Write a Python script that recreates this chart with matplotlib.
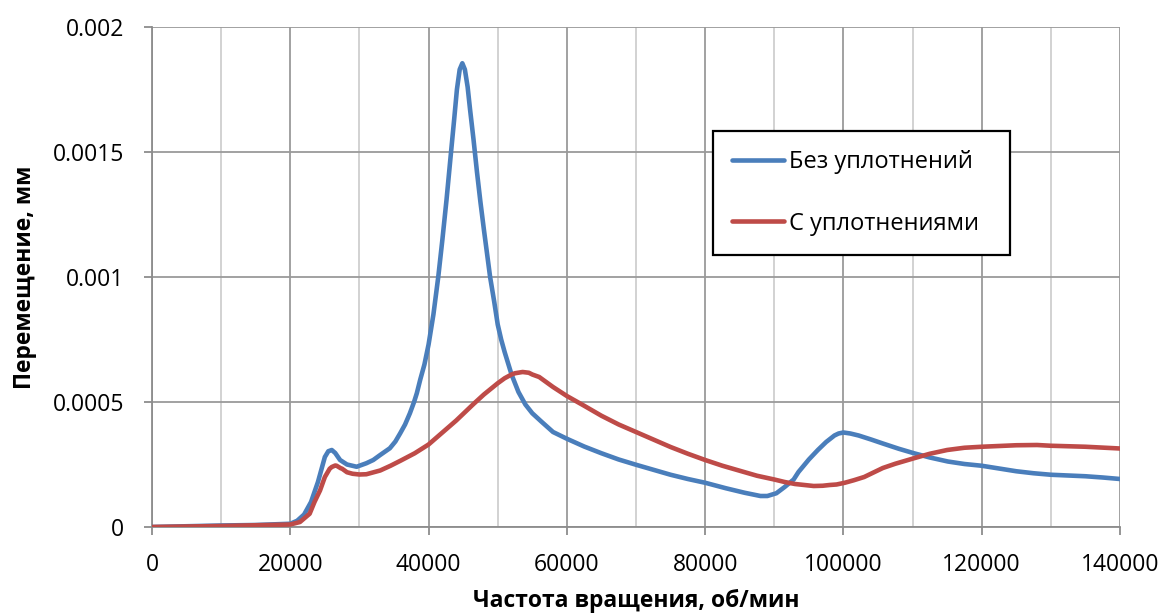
import matplotlib
matplotlib.use("Agg")
import matplotlib.pyplot as plt
from matplotlib.ticker import MultipleLocator, FixedLocator

# Rotation speed, rpm / displacement, mm
speed_plain = [0, 5000, 10000, 15000, 20000, 21000, 22000, 23000, 24000, 25000,
               25500, 26000, 26500, 27200, 28200, 29600, 31000, 32000, 33000, 34400,
               35200, 35900, 36600, 37300, 37900, 38300, 38800, 39400, 40000, 40700,
               41400, 42000, 42600, 43250, 43700, 44100, 44500, 44880, 45250, 45650,
               46000, 46500, 47000, 47500, 48000, 48900, 49500, 50000, 50500, 51000,
               52000, 53000, 54000, 55000, 56300, 58000, 60000, 62500, 65000, 67500,
               70000, 72500, 75000, 77500, 80000, 83000, 85700, 88000, 89000, 90300,
               91500, 92800, 93500, 95000, 96300, 97500, 98700, 99300, 100000, 101000,
               102200, 104000, 105700, 108000, 110200, 112500, 115100, 117500, 120000,
               122500, 125000, 127500, 130000, 132500, 135000, 137500, 140000]
disp_plain = [0, 0.000003, 0.000006, 0.000008, 0.000013, 0.000025, 0.00005, 0.0001,
              0.00018, 0.00028, 0.000303, 0.000308, 0.000296, 0.000268, 0.00025,
              0.000241, 0.000255, 0.000268, 0.000288, 0.000315, 0.000342, 0.000375,
              0.00041, 0.000455, 0.0005, 0.000535, 0.00059, 0.00065, 0.00073, 0.00085,
              0.001, 0.00115, 0.00131, 0.0015, 0.00163, 0.00175, 0.00183, 0.001855,
              0.00183, 0.00176, 0.00167, 0.00155, 0.00142, 0.0013, 0.00119, 0.001,
              0.0009, 0.00081, 0.00075, 0.0007, 0.00061, 0.00054, 0.00049, 0.000455,
              0.000422, 0.00038, 0.000353, 0.000322, 0.000295, 0.00027, 0.000249,
              0.000229, 0.000209, 0.000192, 0.000177, 0.000155, 0.000137, 0.000124,
              0.000124, 0.000135, 0.00016, 0.00019, 0.00022, 0.00027, 0.000308,
              0.00034, 0.000366, 0.000374, 0.000378, 0.000374, 0.000366, 0.00035,
              0.000334, 0.000313, 0.000295, 0.000278, 0.000262, 0.000252, 0.000245,
              0.000234, 0.000223, 0.000215, 0.000209, 0.000206, 0.000203, 0.000198,
              0.000192]

speed_sealed = [0, 10000, 20000, 21400, 22800, 23500, 24300, 25000, 25700, 26000,
                26500, 26700, 27300, 27500, 28200, 29000, 30000, 31000, 33000, 34500,
                36000, 38000, 40000, 42000, 44000, 46500, 48000, 50000, 51000, 52000,
                52500, 53600, 54500, 55000, 56000, 57000, 58000, 60000, 62500, 65000,
                67500, 70000, 72500, 75000, 77500, 80000, 82500, 85000, 87500, 90000,
                91500, 93000, 95700, 97000, 98000, 99000, 100200, 101500, 103000,
                104500, 105700, 107500, 110200, 112500, 115000, 117500, 120000, 125000,
                128000, 130000, 135000, 140000]
disp_sealed = [0, 0.000004, 0.00001, 0.00002, 0.000053, 0.0001, 0.000146, 0.0002,
               0.000233, 0.00024, 0.000246, 0.000245, 0.000235, 0.000233, 0.000219,
               0.000213, 0.00021, 0.000211, 0.000226, 0.000245, 0.000266, 0.000295,
               0.00033, 0.000378, 0.000426, 0.000492, 0.00053, 0.000575, 0.000595,
               0.00061, 0.000615, 0.00062, 0.000617, 0.00061, 0.0006, 0.00058, 0.00056,
               0.000524, 0.000485, 0.000445, 0.00041, 0.00038, 0.00035, 0.00032,
               0.000293, 0.000268, 0.000245, 0.000225, 0.000205, 0.00019, 0.00018,
               0.000172, 0.000164, 0.000165, 0.000168, 0.00017, 0.000177, 0.000187,
               0.0002, 0.00022, 0.000236, 0.000253, 0.000275, 0.000293, 0.000308,
               0.000317, 0.000321, 0.000327, 0.000328, 0.000325, 0.000321, 0.000314]

series_labels = ["Без уплотнений", "С уплотнениями"]
x_label = "Частота вращения, об/мин"
y_label = "Перемещение, мм"
y_ticks = [0, 0.0005, 0.001, 0.0015, 0.002]
y_tick_labels = ["0", "0.0005", "0.001", "0.0015", "0.002"]
x_ticks = [0, 20000, 40000, 60000, 80000, 100000, 120000, 140000]

plt.rcParams["font.family"] = ["Open Sans", "DejaVu Sans"]

fig = plt.figure(figsize=(11.66, 6.14), dpi=100)
ax = fig.add_axes([152 / 1166, 1 - 527 / 614, 968 / 1166, 500 / 614])

ax.plot(speed_plain, disp_plain, color="#4A7EBB", lw=3.3, label=series_labels[0],
        solid_capstyle="round", solid_joinstyle="round", zorder=3)
ax.plot(speed_sealed, disp_sealed, color="#BE4B48", lw=3.3, label=series_labels[1],
        solid_capstyle="round", solid_joinstyle="round", zorder=3)

ax.set_xlim(0, 140000)
ax.set_ylim(0, 0.002)
ax.xaxis.set_major_locator(FixedLocator(x_ticks))
ax.xaxis.set_minor_locator(MultipleLocator(10000))
ax.set_xticklabels([str(v) for v in x_ticks])
ax.yaxis.set_major_locator(FixedLocator(y_ticks))
ax.set_yticklabels(y_tick_labels)

ax.grid(which="major", color="#9a9a9a", lw=1.3)
ax.grid(which="minor", axis="x", color="#cfcfcf", lw=1.3)
ax.set_axisbelow(True)

for side in ("top", "right"):
    ax.spines[side].set_visible(False)
for side in ("left", "bottom"):
    ax.spines[side].set_color("#8c8c8c")
    ax.spines[side].set_linewidth(1.3)

ax.tick_params(axis="both", which="major", colors="#8c8c8c", length=6, width=1.3,
               labelsize=16.5, labelcolor="black")
ax.tick_params(axis="x", which="minor", length=0)
ax.tick_params(axis="x", pad=13)
ax.tick_params(axis="y", pad=14)

ax.set_xlabel(x_label, fontsize=16.5, fontweight="bold", labelpad=8)
ax.set_ylabel(y_label, fontsize=16.5, fontweight="bold", labelpad=11)

leg = ax.legend(loc="upper left", bbox_to_anchor=(0.5795, 0.792, 0.307, 0.0),
                mode="expand", fontsize=17, frameon=True, fancybox=False,
                handlelength=2.2, handletextpad=0.2, labelspacing=1.6,
                borderpad=0.8, borderaxespad=0)
leg.get_frame().set_edgecolor("black")
leg.get_frame().set_linewidth(1.6)
leg.get_frame().set_alpha(1)

fig.savefig("out.png", dpi=100, facecolor="white")
